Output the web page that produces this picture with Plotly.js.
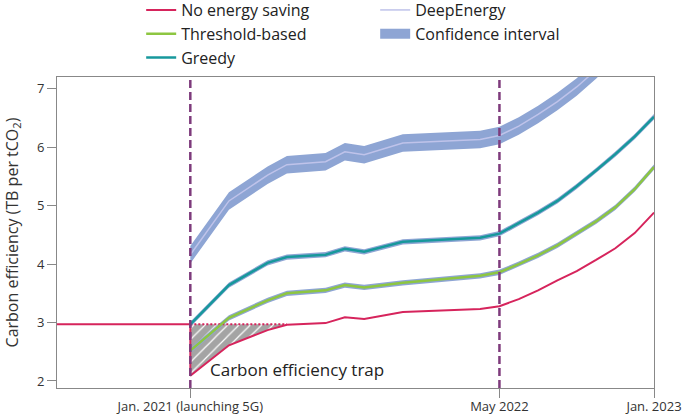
<!DOCTYPE html>
<html>
<head>
<meta charset="utf-8">
<script src="https://cdn.plot.ly/plotly-3.0.1.min.js"></script>
<style>html,body{margin:0;padding:0;background:#fff}#chart{width:685px;height:419px}</style>
</head>
<body>
<div id="chart"></div>
<script>
// Months since Jan. 2021
const months = [0, 2, 4, 5, 7, 8, 9, 11, 15, 16, 17, 18, 19, 20, 21, 22, 23, 24];
const preMonths = [-7, 0];
const preValues = [2.97, 2.97];

const noSaving  = [2.09, 2.61, 2.87, 2.96, 2.99, 3.09, 3.06, 3.18, 3.23, 3.28, 3.40, 3.55, 3.72, 3.88, 4.07, 4.27, 4.53, 4.88];
const threshold = [2.52, 3.08, 3.38, 3.50, 3.55, 3.64, 3.60, 3.68, 3.80, 3.86, 4.00, 4.15, 4.32, 4.52, 4.73, 4.97, 5.28, 5.66];
const greedy    = [2.97, 3.64, 4.02, 4.12, 4.16, 4.26, 4.21, 4.38, 4.45, 4.52, 4.70, 4.88, 5.08, 5.33, 5.60, 5.88, 6.18, 6.52];
const deepEnergy= [4.16, 5.08, 5.52, 5.70, 5.75, 5.92, 5.87, 6.07, 6.13, 6.20, 6.36, 6.56, 6.78, 7.03, 7.32, 7.65, 8.00, 8.40];

// confidence interval half-widths
const ciThreshold = [0.045, 0.045, 0.045, 0.045, 0.045, 0.045, 0.045, 0.045, 0.045, 0.045, 0.045, 0.045, 0.045, 0.045, 0.045, 0.045, 0.045, 0.045];
const ciGreedy    = [0.045, 0.045, 0.045, 0.045, 0.045, 0.045, 0.045, 0.045, 0.045, 0.045, 0.045, 0.045, 0.045, 0.045, 0.045, 0.045, 0.045, 0.045];
const ciDeep      = [0.15, 0.15, 0.15, 0.15, 0.15, 0.15, 0.15, 0.15, 0.15, 0.15, 0.15, 0.15, 0.15, 0.15, 0.15, 0.15, 0.15, 0.15];

// carbon efficiency trap (months 0..5)
const trapMonths = [0, 2, 4, 5];
const trapLower = [2.09, 2.61, 2.87, 2.96];
const trapUpper = [2.97, 2.97, 2.97, 2.97];

const tickVals = [0, 16, 24];
const tickText = ['Jan. 2021 (launching 5G)', 'May 2022', 'Jan. 2023'];
const eventMonths = [0, 16];

const C = {red:'#d6245c', green:'#8dc641', teal:'#17989c', band:'#8ea5d4', deep:'#bfc3ea', purple:'#7e3b7c'};

function band(center, half) {
  const up = center.map((v, i) => v + half[i]);
  const lo = center.map((v, i) => v - half[i]);
  return {
    x: months.concat(months.slice().reverse()),
    y: up.concat(lo.slice().reverse()),
    type: 'scatter', mode: 'lines', fill: 'toself', fillcolor: C.band,
    line: {width: 0, color: C.band}, showlegend: false, hoverinfo: 'skip'
  };
}

const traces = [
  {
    x: trapMonths.concat(trapMonths.slice().reverse()),
    y: trapLower.concat(trapUpper.slice().reverse()),
    type: 'scatter', mode: 'lines', fill: 'toself', fillcolor: '#a4a4a4',
    fillpattern: {shape: '/', fgcolor: '#ffffff', bgcolor: '#a4a4a4', size: 8, solidity: 0.15},
    line: {width: 0}, showlegend: false, hoverinfo: 'skip'
  },
  band(deepEnergy, ciDeep),
  band(greedy, ciGreedy),
  band(threshold, ciThreshold),
  {x: trapMonths, y: trapUpper, type: 'scatter', mode: 'lines',
   line: {color: C.red, width: 2, dash: '2px,2px'}, showlegend: false},
  {x: preMonths.concat(months), y: preValues.concat(noSaving), type: 'scatter', mode: 'lines',
   name: 'No energy saving', line: {color: C.red, width: 2}, legendrank: 1},
  {x: months, y: threshold, type: 'scatter', mode: 'lines',
   name: 'Threshold-based', line: {color: C.green, width: 2.5}, legendrank: 3},
  {x: months, y: greedy, type: 'scatter', mode: 'lines',
   name: 'Greedy', line: {color: C.teal, width: 2.5}, legendrank: 5},
  {x: months, y: deepEnergy, type: 'scatter', mode: 'lines',
   name: 'DeepEnergy', line: {color: C.deep, width: 1.5}, legendrank: 2},
  {x: [null], y: [null], type: 'scatter', mode: 'lines',
   name: 'Confidence interval', line: {color: C.band, width: 16}, legendrank: 4}
];

const shapes = eventMonths.map(m => ({
  type: 'line', xref: 'x', yref: 'paper', x0: m, x1: m, y0: 0, y1: 1,
  line: {color: C.purple, width: 2.5, dash: '8px,4px'}
}));

const font = '"Open Sans", Lato, sans-serif';
const layout = {
  width: 685, height: 419,
  margin: {l: 57, r: 31, t: 77, b: 31, autoexpand: false},
  paper_bgcolor: '#fff', plot_bgcolor: '#fff',
  font: {family: font, size: 13, color: '#333'},
  showlegend: true,
  legend: {orientation: 'h', x: 0.141, y: 1.27, xref: 'paper', yref: 'paper',
    xanchor: 'left', yanchor: 'top',
    font: {family: font, size: 16, color: '#222'}, entrywidth: 189, entrywidthmode: 'pixels',
    bgcolor: 'rgba(0,0,0,0)', traceorder: 'normal'},
  xaxis: {range: [-6.9, 24], tickvals: tickVals, ticktext: tickText, ticks: 'outside', ticklen: 9,
    tickcolor: '#888', showline: true, linecolor: '#888', linewidth: 1, mirror: true,
    showgrid: false, zeroline: false, tickfont: {size: 13, color: '#333'}, ticklabelstandoff: -3},
  yaxis: {range: [1.88, 7.2], dtick: 1, tick0: 0, ticks: 'outside', ticklen: 9,
    tickcolor: '#888', showline: true, linecolor: '#888', linewidth: 1, mirror: true,
    showgrid: false, zeroline: false, tickfont: {size: 13, color: '#333'},
    title: {text: 'Carbon efficiency (TB per tCO<sub>2</sub>)', font: {size: 16, color: '#333'}, standoff: 14}},
  shapes: shapes,
  annotations: [{x: 0.93, y: 2.2, xref: 'x', yref: 'y', xanchor: 'left', yanchor: 'middle',
    text: 'Carbon efficiency trap', showarrow: false, font: {size: 17, color: '#222'}}]
};

Plotly.newPlot('chart', traces, layout, {displayModeBar: false, staticPlot: true});
</script>
</body>
</html>
